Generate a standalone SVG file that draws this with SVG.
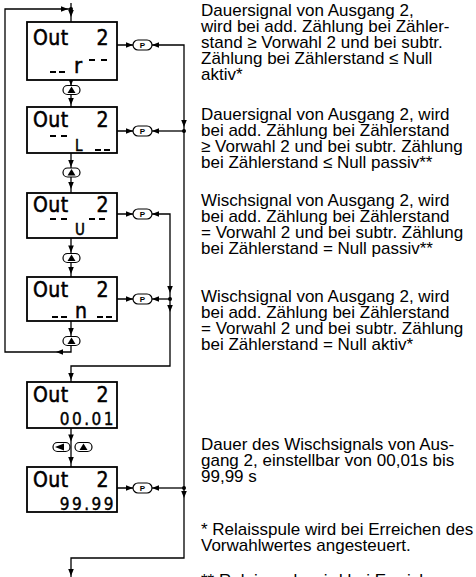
<svg xmlns="http://www.w3.org/2000/svg" xmlns:xlink="http://www.w3.org/1999/xlink" width="476" height="577" viewBox="0 0 476 577">
<style>
.box{fill:#fff;stroke:#000;stroke-width:1.8}
.ln{fill:none;stroke:#000;stroke-width:1.3}
.seg{stroke:#000;stroke-width:2;stroke-linecap:butt}
.lcd{font-family:"Liberation Sans Narrow","DejaVu Sans Condensed",sans-serif;font-weight:normal;font-size:21px;fill:#000;stroke:#000;stroke-width:0.5;letter-spacing:0.5px}
.dig{font-family:"Liberation Sans Narrow","DejaVu Sans Condensed",sans-serif;font-weight:normal;font-size:17px;fill:#000;stroke:#000;stroke-width:0.4;letter-spacing:2.5px}
.pill{fill:#fff;stroke:#000;stroke-width:1.2}
.pl{font-family:"Liberation Sans",Arial,sans-serif;font-weight:bold;font-size:8px;fill:#000}
.txt{font-family:"Liberation Sans",Arial,Helvetica,sans-serif;font-size:17px;fill:#000}
</style>
<defs>
<path id="ah" d="M0,0 L-7,-2.8 L-7,2.8 Z" fill="#000"/>
</defs>
<g id="connectors">
<path class="ln" d="M71,3 V22"/>
<circle cx="71" cy="9" r="2" fill="#000"/>
<path class="ln" d="M71,321 V352 H5 V9 H71"/>
<path class="ln" d="M71,80 V107"/>
<path class="ln" d="M71,153 V193"/>
<path class="ln" d="M71,238 V277"/>
<path class="ln" d="M71,428 V467"/>
<path class="ln" d="M117,45 H133 M117,131 H133 M117,214 H133 M117,299 H133 M117,488 H133"/>
<path class="ln" d="M152,45 H184 V558 H71 V577"/>
<path class="ln" d="M152,131 H184"/>
<path class="ln" d="M152,214 H170 V366 H71 V382"/>
<path class="ln" d="M152,299 H170"/>
<path class="ln" d="M152,488 H184"/>
<circle cx="184" cy="131" r="2" fill="#000"/>
<circle cx="184" cy="488" r="2" fill="#000"/>
<circle cx="170" cy="299" r="2" fill="#000"/>
<use xlink:href="#ah" transform="translate(71,17) rotate(90)"/>
<use xlink:href="#ah" transform="translate(68,9)"/>
<use xlink:href="#ah" transform="translate(56,352) rotate(180)"/>
<use xlink:href="#ah" transform="translate(71,335) rotate(90)"/>
<use xlink:href="#ah" transform="translate(71,85.5) rotate(90)"/>
<use xlink:href="#ah" transform="translate(71,105) rotate(90)"/>
<use xlink:href="#ah" transform="translate(71,167) rotate(90)"/>
<use xlink:href="#ah" transform="translate(71,189) rotate(90)"/>
<use xlink:href="#ah" transform="translate(71,252.5) rotate(90)"/>
<use xlink:href="#ah" transform="translate(71,274) rotate(90)"/>
<use xlink:href="#ah" transform="translate(71,441.5) rotate(90)"/>
<use xlink:href="#ah" transform="translate(71,464) rotate(90)"/>
<use xlink:href="#ah" transform="translate(71,380) rotate(90)"/>
<use xlink:href="#ah" transform="translate(71,576) rotate(90)"/>
<use xlink:href="#ah" transform="translate(184,127) rotate(90)"/>
<use xlink:href="#ah" transform="translate(184,498) rotate(90)"/>
<use xlink:href="#ah" transform="translate(170,293) rotate(90)"/>
<use xlink:href="#ah" transform="translate(170,312) rotate(90)"/>
<use xlink:href="#ah" transform="translate(133,45)"/>
<use xlink:href="#ah" transform="translate(133,131)"/>
<use xlink:href="#ah" transform="translate(133,214)"/>
<use xlink:href="#ah" transform="translate(133,299)"/>
<use xlink:href="#ah" transform="translate(133,488)"/>
<use xlink:href="#ah" transform="translate(152,45) rotate(180)"/>
<use xlink:href="#ah" transform="translate(152,131) rotate(180)"/>
<use xlink:href="#ah" transform="translate(152,214) rotate(180)"/>
<use xlink:href="#ah" transform="translate(152,299) rotate(180)"/>
<use xlink:href="#ah" transform="translate(152,488) rotate(180)"/>
</g>
<g id="btn-up-1"><rect class="pill" x="63" y="85.5" width="17" height="9" rx="4.5"/><path d="M71.5,86.5 L67.5,93 L75.5,93 Z"/></g>
<g id="btn-up-2"><rect class="pill" x="63" y="168" width="17" height="9" rx="4.5"/><path d="M71.5,169 L67.5,175.5 L75.5,175.5 Z"/></g>
<g id="btn-up-3"><rect class="pill" x="63" y="253.5" width="17" height="9" rx="4.5"/><path d="M71.5,254.5 L67.5,261 L75.5,261 Z"/></g>
<g id="btn-up-4"><rect class="pill" x="63" y="336.5" width="17" height="9" rx="4.5"/><path d="M71.5,337.5 L67.5,344 L75.5,344 Z"/></g>
<g id="btn-left-5"><rect class="pill" x="53" y="442.5" width="17" height="9" rx="4.5"/><path d="M55,447 L64,443.5 L64,450.5 Z"/></g>
<g id="btn-up-5"><rect class="pill" x="75" y="442.5" width="17" height="9" rx="4.5"/><path d="M83.5,443.5 L79.5,450 L87.5,450 Z"/></g>
<g id="btn-p-1"><rect class="pill" x="133" y="40" width="19" height="10" rx="5"/><text class="pl" x="142.5" y="47.8" text-anchor="middle">P</text></g>
<g id="btn-p-2"><rect class="pill" x="133" y="126" width="19" height="10" rx="5"/><text class="pl" x="142.5" y="133.8" text-anchor="middle">P</text></g>
<g id="btn-p-3"><rect class="pill" x="133" y="209" width="19" height="10" rx="5"/><text class="pl" x="142.5" y="216.8" text-anchor="middle">P</text></g>
<g id="btn-p-4"><rect class="pill" x="133" y="294" width="19" height="10" rx="5"/><text class="pl" x="142.5" y="301.8" text-anchor="middle">P</text></g>
<g id="btn-p-6"><rect class="pill" x="133" y="483" width="19" height="10" rx="5"/><text class="pl" x="142.5" y="490.8" text-anchor="middle">P</text></g>
<g id="display-1">
<rect class="box" x="27" y="22" width="90" height="58"/>
<text class="lcd" x="33" y="45">Out</text><text class="lcd" x="109" y="45" text-anchor="end">2</text>
<path class="seg" d="M50,72 H56 M59,72 H65 M89,60 H95 M101,60 H107"/>
<text class="lcd" x="74" y="73" style="font-size:22px">r</text>
</g>
<g id="display-2">
<rect class="box" x="27" y="107" width="90" height="46"/>
<text class="lcd" x="33" y="127">Out</text><text class="lcd" x="109" y="127" text-anchor="end">2</text>
<path class="seg" d="M50,136 H56 M61,136 H67 M95,150 H101 M104,150 H110"/>
<text class="lcd" x="75" y="151" style="font-size:15px">L</text>
</g>
<g id="display-3">
<rect class="box" x="27" y="193" width="90" height="45"/>
<text class="lcd" x="33" y="212">Out</text><text class="lcd" x="109" y="212" text-anchor="end">2</text>
<path class="seg" d="M50,219 H56 M61,219 H67 M89,219 H95 M99,219 H105"/>
<text class="lcd" x="75" y="235" style="font-size:15px">U</text>
</g>
<g id="display-4">
<rect class="box" x="27" y="277" width="90" height="44"/>
<text class="lcd" x="33" y="297">Out</text><text class="lcd" x="109" y="297" text-anchor="end">2</text>
<path class="seg" d="M52,317 H58 M61,317 H67 M97,317 H103 M106,317 H112"/>
<text class="lcd" x="75" y="318" style="font-size:21px">n</text>
</g>
<g id="display-5">
<rect class="box" x="27" y="382" width="90" height="46"/>
<text class="lcd" x="33" y="402">Out</text><text class="lcd" x="109" y="402" text-anchor="end">2</text>
<text class="dig" x="116" y="425" text-anchor="end">00.01</text>
</g>
<g id="display-6">
<rect class="box" x="27" y="467" width="90" height="45"/>
<text class="lcd" x="33" y="487">Out</text><text class="lcd" x="109" y="487" text-anchor="end">2</text>
<text class="dig" x="116" y="510" text-anchor="end">99.99</text>
</g>
<g id="texts">
<text class="txt"><tspan x="201" y="16">Dauersignal von Ausgang 2,</tspan><tspan x="201" y="32">wird bei add. Zählung bei Zähler-</tspan><tspan x="201" y="48">stand ≥ Vorwahl 2 und bei subtr.</tspan><tspan x="201" y="64">Zählung bei Zählerstand ≤ Null</tspan><tspan x="201" y="80">aktiv*</tspan></text>
<text class="txt"><tspan x="201" y="120">Dauersignal von Ausgang 2, wird</tspan><tspan x="201" y="136">bei add. Zählung bei Zählerstand</tspan><tspan x="201" y="152">≥ Vorwahl 2 und bei subtr. Zählung</tspan><tspan x="201" y="168">bei Zählerstand ≤ Null passiv**</tspan></text>
<text class="txt"><tspan x="201" y="206">Wischsignal von Ausgang 2, wird</tspan><tspan x="201" y="222">bei add. Zählung bei Zählerstand</tspan><tspan x="201" y="238">= Vorwahl 2 und bei subtr. Zählung</tspan><tspan x="201" y="254">bei Zählerstand = Null passiv**</tspan></text>
<text class="txt"><tspan x="201" y="302">Wischsignal von Ausgang 2, wird</tspan><tspan x="201" y="318">bei add. Zählung bei Zählerstand</tspan><tspan x="201" y="334">= Vorwahl 2 und bei subtr. Zählung</tspan><tspan x="201" y="350">bei Zählerstand = Null aktiv*</tspan></text>
<text class="txt"><tspan x="201" y="450">Dauer des Wischsignals von Aus-</tspan><tspan x="201" y="466">gang 2, einstellbar von 00,01s bis</tspan><tspan x="201" y="482">99,99 s</tspan></text>
<text class="txt"><tspan x="201" y="535">* Relaisspule wird bei Erreichen des</tspan><tspan x="201" y="551">Vorwahlwertes angesteuert.</tspan></text>
<text class="txt" x="201" y="586">** Relaisspule wird bei Erreichen</text>
</g>
</svg>
